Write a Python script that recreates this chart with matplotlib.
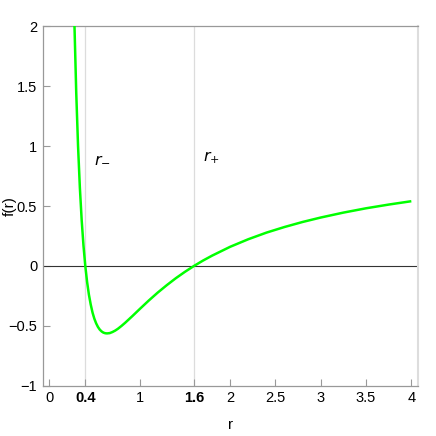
import matplotlib
matplotlib.use("Agg")
import matplotlib.pyplot as plt

plt.rcParams['font.family'] = ['Liberation Sans', 'DejaVu Sans']

r_vals = [0.28, 0.30, 0.32, 0.34, 0.36, 0.38, 0.40, 0.42, 0.44, 0.46, 0.48, 0.50, 0.52,
          0.54, 0.56, 0.58, 0.60, 0.62, 0.64, 0.67, 0.70, 0.73, 0.76, 0.80, 0.84, 0.92,
          1.0, 1.1, 1.2, 1.3, 1.4, 1.5, 1.6, 1.7, 1.8, 2.0, 2.2, 2.4, 2.6, 2.8, 3.0,
          3.25, 3.5, 3.75, 4.0]
f_vals = [2.02, 1.444, 1.0, 0.654, 0.383, 0.169, 0.0, -0.134, -0.240, -0.322, -0.389,
          -0.440, -0.479, -0.509, -0.531, -0.546, -0.556, -0.561, -0.5625, -0.560,
          -0.551, -0.539, -0.524, -0.500, -0.474, -0.418, -0.36, -0.289, -0.222,
          -0.160, -0.102, -0.049, 0.0, 0.045, 0.086, 0.16, 0.223, 0.278, 0.325, 0.367,
          0.404, 0.445, 0.481, 0.512, 0.54]

x_ticks = [0, 0.4, 1, 1.6, 2, 2.5, 3, 3.5, 4]
x_tick_labels = ["0", "0.4", "1", "1.6", "2", "2.5", "3", "3.5", "4"]
y_ticks = [-1, -0.5, 0, 0.5, 1, 1.5, 2]
y_tick_labels = ["\u22121", "\u22120.5", "0", "0.5", "1", "1.5", "2"]
horizons = [0.4, 1.6]
horizon_labels = [r"$r_{-}$", r"$r_{+}$"]

fig = plt.figure(figsize=(4.36, 4.36), dpi=100)
ax = fig.add_axes([0.098, 0.115, 0.861, 0.825])

for h in horizons:
    ax.axvline(h, color="#dcdcdc", lw=0.9, zorder=1)
ax.axhline(0, color="#333333", lw=0.8, zorder=2)
ax.plot(r_vals, f_vals, color="#00ff00", lw=1.8, zorder=3, solid_capstyle="butt")

for h, lab in zip(horizons, horizon_labels):
    ax.text(h + 0.1, 0.9, lab, fontsize=11.5, ha="left", va="center")

ax.set_xlim(-0.07, 4.075)
ax.set_ylim(-1, 2)
ax.set_xticks(x_ticks)
ax.set_xticklabels(x_tick_labels, fontsize=10.5)
ax.set_yticks(y_ticks)
ax.set_yticklabels(y_tick_labels, fontsize=10.5)
for lbl in ax.get_xticklabels():
    if lbl.get_text() in ("0.4", "1.6"):
        lbl.set_fontweight("bold")

ax.tick_params(direction="in", length=5, width=0.8, color="#999999", pad=4)
for s in ("left", "bottom", "top"):
    ax.spines[s].set_color("#999999")
    ax.spines[s].set_linewidth(0.9)
ax.spines["right"].set_color("#dddddd")
ax.spines["right"].set_linewidth(1.5)

ax.set_xlabel("r", fontsize=11)
ax.xaxis.set_label_coords(0.5, -0.09)
ax.set_ylabel("f(r)", fontsize=11)
ax.yaxis.set_label_coords(-0.068, 0.5)

fig.savefig("out.png", dpi=100)
